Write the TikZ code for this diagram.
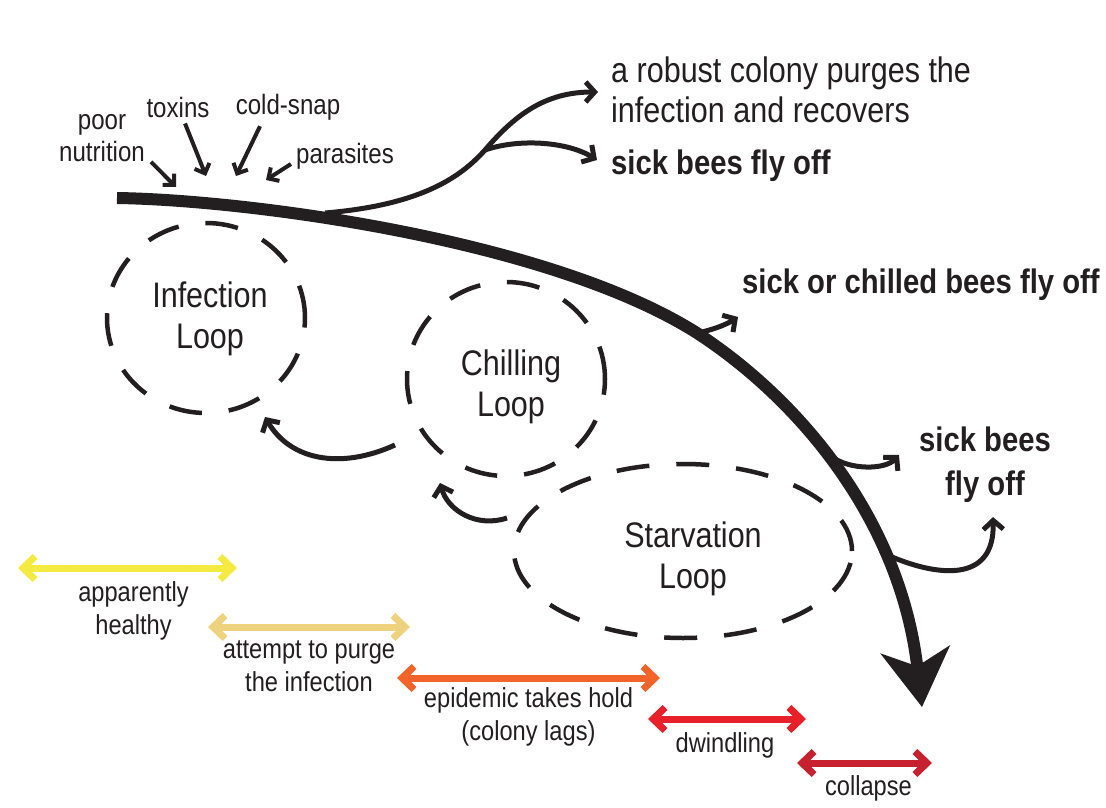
\documentclass[tikz,border=0pt]{standalone}
\usepackage{fontspec}
\setmainfont{Liberation Sans}[FakeStretch=0.86]
\usetikzlibrary{
  arrows.meta,
  shapes.geometric,
  calc
}
\definecolor{ink}     {RGB}{35,  31,  32}
\definecolor{healthy} {RGB}{245, 234,  66}
\definecolor{purging} {RGB}{239, 210, 126}
\definecolor{epidemic}{RGB}{242, 100,  41}
\definecolor{dwindle} {RGB}{232,  32,  42}
\definecolor{collapse}{RGB}{199,  32,  47}
\tikzset{
  loopring/.style={
    ellipse, draw=ink, line width=4.5pt,
    dash pattern=on 33pt off 27pt, inner sep=0pt
  },
  looptext/.style={
    text=ink, align=center, inner sep=0pt,
    font=\fontsize{35.5}{41.5}\selectfont
  },
  cause/.style={
    text=ink, align=center, inner sep=0pt,
    font=\fontsize{28}{32}\selectfont
  },
  causearrow/.style={
    draw=ink, line width=4pt,
    -{Straight Barb[length=8pt,width=16pt]}
  },
  trunk/.style={
    draw=ink, line width=12pt,
    -{Stealth[length=58pt,width=70pt,inset=17pt,line width=4pt]}
  },
  branch/.style={
    draw=ink, line width=5pt,
    -{Straight Barb[length=9pt,width=20pt]}
  },
  outcome/.style={
    text=ink, align=left, anchor=west, inner sep=0pt,
    font=\fontsize{35.5}{40}\selectfont
  },
  flyoff/.style={
    text=ink, align=center, inner sep=0pt,
    font=\bfseries\fontsize{34}{44}\selectfont
  },
  stage/.style={
    draw=#1, line width=7pt,
    {Straight Barb[length=12pt,width=23pt]}-{Straight Barb[length=12pt,width=23pt]}
  },
  stagelabel/.style={
    text=ink, align=center, inner sep=0pt,
    font=\fontsize{27.5}{33}\selectfont
  },
}

\begin{document}
\begin{tikzpicture}[x=1pt, y=-1pt]
\useasboundingbox[fill=white] (0,0) rectangle (1106,808);

% ── Loops ─────────────────────────────────────────────────────────────────────
\node[loopring, minimum width=198pt, minimum height=190pt] (infect) at (206,318) {};
\node[loopring, minimum width=198pt, minimum height=194pt] (chill) at (506,379) {};
\node[loopring, minimum width=338pt, minimum height=174pt] (starve) at (683,551) {};

\node[looptext] (infectName) at ($(infect)+(4,1)$) {Infection\\Loop};
\node[looptext] (chillName)  at ($(chill)+(5,8)$)  {Chilling\\Loop};
\node[looptext] (starveName) at ($(starve)+(10,8)$) {Starvation\\Loop};

% ── Feedback between loops ────────────────────────────────────────────────────
\draw[branch] ($(chill)+(-111,66)$) .. controls +(-55,25) and +(25,43) ..
  ($(infect)+(59,99)$);
\draw[branch] ($(starve)+(-176,-33)$) .. controls +(-30,10) and +(8,28) ..
  ($(chill)+(-66,104)$);

% ── Main course of the colony ─────────────────────────────────────────────────
\coordinate (stem) at (117,198);
\coordinate (bend) at (697,333);
\coordinate (tip)  at (922,707);
\draw[trunk] (stem) .. controls (250,200) and (550,240) .. (bend)
  .. controls (800,400) and (900,520) .. (tip);

% ── Causes ────────────────────────────────────────────────────────────────────
\node[cause] (nutrition) at (102,138) {poor\\nutrition};
\node[cause] (toxins)    at (178,107) {toxins};
\node[cause] (coldsnap)  at (288,107) {cold-snap};
\node[cause] (parasites) at (345,156) {parasites};

\coordinate (hitN) at (176,187);
\coordinate (hitT) at (206,176);
\coordinate (hitC) at (236,176);
\coordinate (hitP) at (266,180);
\draw[causearrow] ($(nutrition.south east)+(6,0)$) -- (hitN);
\draw[causearrow] ($(toxins.south)+(7,6)$) -- (hitT);
\draw[causearrow] ($(coldsnap.south)+(-28,6)$) -- (hitC);
\draw[causearrow] ($(parasites.west)+(-5,8)$) -- (hitP);

% ── Early outcomes ────────────────────────────────────────────────────────────
\coordinate (fork1) at (325,213);
\coordinate (fork2) at (485,150);
\node[outcome] (robust) at (611,90)
  {a robust colony purges the\\infection and recovers};
\node[outcome, font=\bfseries\fontsize{34}{40}\selectfont] (sickA) at (611,166)
  {sick bees fly off};

\draw[branch] (fork1) .. controls (420,205) and (460,178) .. (fork2)
  .. controls (515,115) and (545,92) .. ($(robust.west)+(-13,2)$);
\draw[branch] (fork2) .. controls (520,138) and (568,142) ..
  ($(sickA.west)+(-14,-6)$);

% ── Later outcomes ────────────────────────────────────────────────────────────
\node[outcome, font=\bfseries\fontsize{34}{40}\selectfont] (sickB) at (742,285)
  {sick or chilled bees fly off};
\node[flyoff] (sickC) at (985,465) {sick bees\\fly off};

\coordinate (fork3) at (832,457);
\coordinate (fork4) at (892,557);
\draw[branch] (bend) .. controls (708,331) and (724,326) ..
  ($(sickB.west)+(-4,32)$);
\draw[branch] (fork3) .. controls (850,470) and (885,470) ..
  ($(sickC.west)+(-20,-10)$);
\draw[branch] (fork4) .. controls (935,575) and (995,585) ..
  ($(sickC.south)+(8,14)$);

% ── Stages ────────────────────────────────────────────────────────────────────
\coordinate (h1) at (18,568);  \coordinate (h2) at (237,568);
\coordinate (a1) at (208,627); \coordinate (a2) at (410,627);
\coordinate (e1) at (397,678); \coordinate (e2) at (660,678);
\coordinate (d1) at (648,719); \coordinate (d2) at (806,719);
\coordinate (c1) at (797,763); \coordinate (c2) at (932,763);

\draw[stage=healthy] (h1) -- node[stagelabel, below=10pt, xshift=6pt] (lblH)
  {apparently\\healthy} (h2);
\draw[stage=purging] (a1) -- node[stagelabel, below=10pt] (lblA)
  {attempt to purge\\the infection} (a2);
\draw[stage=epidemic] (e1) -- node[stagelabel, below=6pt] (lblE)
  {epidemic takes hold\\(colony lags)} (e2);
\draw[stage=dwindle] (d1) -- node[stagelabel, below=10pt, xshift=-2pt] (lblD)
  {dwindling} (d2);
\draw[stage=collapse] (c1) -- node[stagelabel, below=9pt, xshift=4pt] (lblC)
  {collapse} (c2);

\end{tikzpicture}
\end{document}
